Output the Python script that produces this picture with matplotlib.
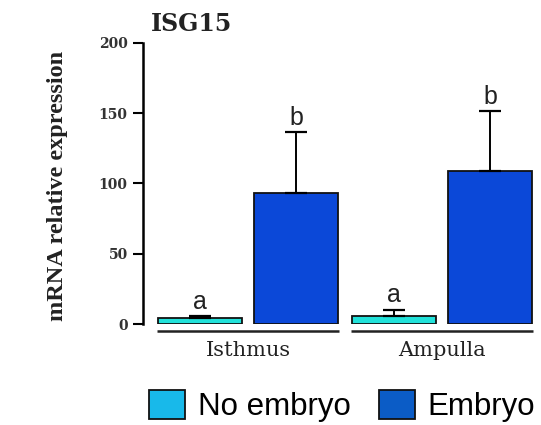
import matplotlib
matplotlib.use('Agg')
import matplotlib.pyplot as plt
from matplotlib.patches import Patch
import numpy as np

# Data
regions = ['Isthmus', 'Ampulla']
groups = ['No embryo', 'Embryo']
means = {
    'No embryo': [4.5, 5.8],
    'Embryo': [93.0, 108.5],
}
errors = {
    'No embryo': [1.5, 4.5],
    'Embryo': [43.5, 43.0],
}
letters = {
    'No embryo': ['a', 'a'],
    'Embryo': ['b', 'b'],
}
yticks = [0, 50, 100, 150, 200]

BAR_COLORS = {'No embryo': '#22e2da', 'Embryo': '#0b48d8'}
LEGEND_COLORS = {'No embryo': '#18b9ea', 'Embryo': '#0b5cc6'}

fig = plt.figure(figsize=(5.41, 4.25), dpi=100)
ax = fig.add_axes([0.2643, 0.2376, 0.7337, 0.662])

x = np.arange(len(regions))
offsets = {'No embryo': -0.248, 'Embryo': 0.248}
width = 0.43

for g in groups:
    pos = x + offsets[g]
    ax.bar(pos, means[g], width=width, color=BAR_COLORS[g],
           edgecolor='#111111', linewidth=1.3, zorder=2)
    ax.errorbar(pos, means[g], yerr=[np.zeros(len(pos)), errors[g]],
                fmt='none', ecolor='black', elinewidth=1.4,
                capsize=8, capthick=1.6, zorder=3)
    for p, m, e, lab in zip(pos, means[g], errors[g], letters[g]):
        ax.text(p, m + e + 5, lab, ha='center', va='baseline',
                fontsize=18, color='#222222', family='Liberation Sans')

# broken x-axis lines under each group
for xi in x:
    ax.plot([xi - 0.47, xi + 0.47], [-5, -5], color='#222222',
            linewidth=1.8, clip_on=False, solid_capstyle='butt')

ax.set_xlim(-0.541, 1.505)
ax.set_ylim(0, 200)
ax.set_yticks(yticks)
ax.set_yticklabels([str(t) for t in yticks], family='DejaVu Serif',
                   fontweight='bold', fontsize=10, color='#333333')
ax.tick_params(axis='y', length=7, width=1.5, pad=4)
ax.set_xticks([])
for s in ['top', 'right', 'bottom']:
    ax.spines[s].set_visible(False)
ax.spines['left'].set_linewidth(1.8)

for xi, name in zip(x, regions):
    ax.text(xi, -12, name, ha='center', va='top', transform=ax.transData,
            family='DejaVu Serif', fontsize=15, color='#222222')

fig.text(58 / 541, 1 - 186 / 425, 'mRNA relative expression', rotation=90,
         ha='center', va='center', family='Liberation Serif',
         fontweight='bold', fontsize=17.5, color='#222222')
fig.text(151 / 541, 1 - 24 / 425, 'ISG15', ha='left', va='center',
         family='DejaVu Serif', fontweight='bold', fontsize=17,
         color='#222222')

handles = [Patch(facecolor=LEGEND_COLORS[g], edgecolor='#111111',
                 linewidth=1.3, label=g) for g in groups]
fig.legend(handles=handles, loc='center', ncol=2,
           bbox_to_anchor=(342 / 541, 1 - 406 / 425), frameon=False,
           prop={'family': 'Liberation Sans', 'size': 22.5},
           handlelength=1.15, handleheight=1.05, handletextpad=0.4,
           columnspacing=0.9, borderpad=0.1)

fig.savefig('out.png', dpi=100, facecolor='white')
